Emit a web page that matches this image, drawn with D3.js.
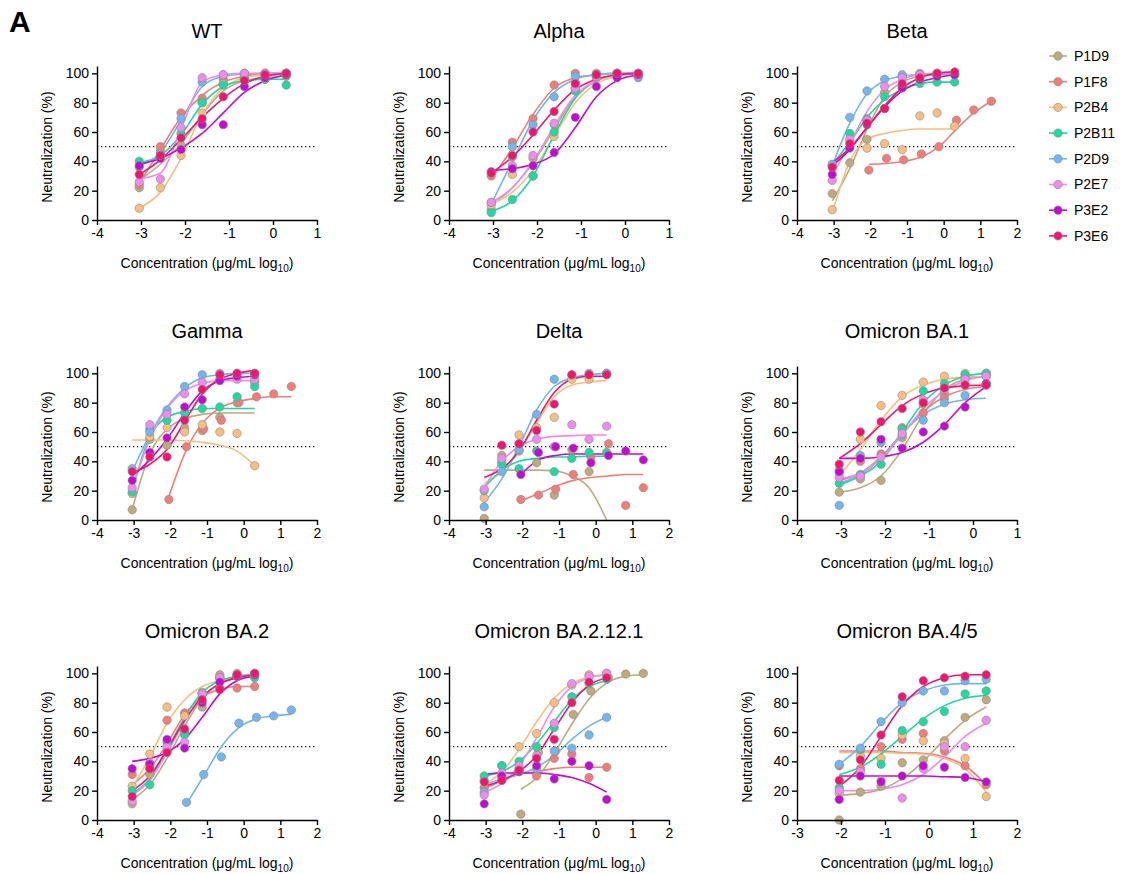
<!DOCTYPE html>
<html>
<head>
<meta charset="utf-8">
<script src="https://cdn.jsdelivr.net/npm/d3@7"></script>
<style>
body { margin: 0; background: #fff; }
svg { font-family: Arial, "Liberation Sans", sans-serif; }
</style>
</head>
<body>
<svg width="1126" height="874"></svg>
<script>
var names = ["P1D9", "P1F8", "P2B4", "P2B11", "P2D9", "P2E7", "P3E2", "P3E6"];
var colors = ["#bfaa7c", "#f27c78", "#fbbd7f", "#1ed9a0", "#72b5ef", "#ef8bef", "#c30bd3", "#f3146f"];

// log10 concentrations: 2 ug/mL top and 20 ug/mL top, 3-fold dilutions
var xStd = [-3.04, -2.56, -2.09, -1.61, -1.13, -0.65, -0.18, 0.30];
var xExt = [-2.04, -1.56, -1.09, -0.61, -0.13, 0.35, 0.82, 1.30];

var wtPts = [
  [22, 47, 51, 80, 93, 96, 96, 98],
  [24, 50, 73, 83, 96, 100, 100, 100],
  [8, 22, 44, 73, 93, 97, 99, 100],
  [40, 43, 59, 80, 92, 96, 96, 92],
  [36, 45, 69, 94, 99, 100, 100, 100],
  [26, 28, 63, 97, 99, 100, 100, 100],
  [37, 42, 48, 65, 65, 91, 97, 99],
  [31, 44, 56, 69, 84, 95, 99, 100]];
var wtFit = [
  [27, 38, 52, 72, 88, 95, 97, 98],
  [25, 48, 70, 85, 94, 98, 100, 100],
  [8, 19, 42, 72, 90, 97, 99, 100],
  [39, 44, 58, 79, 91, 95, 96, 96],
  [37, 46, 68, 91, 98, 99.5, 100, 100],
  [28, 32, 62, 94, 99, 100, 100, 100],
  [38, 42, 49, 59, 73, 87, 95, 99],
  [31, 41, 55, 70, 83, 93, 98, 100]];

var alphaPts = [
  [7, 43, 42, 65, 90, 97, 98, 99],
  [30, 53, 69, 92, 100, 100, 100, 100],
  [10, 31, 30, 57, 94, 99, 100, 100],
  [5, 14, 30, 60, 88, 98, 99, 98],
  [12, 50, 65, 84, 98, 99, 100, 97],
  [12, 37, 44, 66, 90, 98, 99, 98],
  [33, 35, 37, 46, 70, 91, 97, 99],
  [32, 44, 60, 74, 93, 99, 100, 100]];
var alphaFit = [
  [10, 22, 39, 62, 84, 95, 99, 100],
  [28, 49, 72, 90, 97, 99, 100, 100],
  [11, 19, 34, 57, 80, 93, 98, 100],
  [6, 13, 30, 58, 83, 95, 99, 100],
  [11, 40, 68, 87, 96, 99, 100, 100],
  [12, 22, 40, 64, 85, 95, 99, 100],
  [34, 35, 38, 45, 63, 84, 95, 99],
  [32, 43, 58, 75, 89, 96, 99, 100]];

var betaPts = [
  [18, 39, 55, 87, 98, 100, 100, 100],
  [34, 42, 41, 45, 50, 68, 75, 81],
  [7, 54, 49, 52, 48, 71, 73, 64],
  [37, 59, 69, 84, 91, 93, 94, 94],
  [38, 70, 88, 96, 99, 99, 99, 99],
  [27, 55, 68, 91, 97, 99, 100, 100],
  [31, 49, 65, 76, 90, 96, 98, 99],
  [36, 52, 66, 76, 93, 97, 100, 101]];
var betaFit = [
  [13, 35, 62, 84, 94, 98, 99, 100],
  [38, 38.5, 40, 43, 50, 62, 73, 81],
  [5, 40, 55, 59, 61, 62, 62, 62],
  [38, 53, 70, 82, 89, 93, 94, 94],
  [37, 66, 86, 95, 98, 99, 99, 99],
  [30, 52, 74, 89, 96, 99, 100, 100],
  [37, 48, 63, 77, 88, 94, 97, 99],
  [39, 49, 63, 78, 90, 97, 100, 101]];

var gammaPts = [
  [7, 55, 51, 63, 61, 70, 80, 94],
  [14, 50, 62, 68, 80, 84, 86, 91],
  [18, 57, 63, 60, 65, 60, 59, 37],
  [19, 62, 68, 73, 76, 77, 84, 91],
  [35, 60, 75, 91, 99, 100, 100, 100],
  [22, 65, 72, 86, 94, 96, 96, 96],
  [27, 46, 56, 77, 82, 95, 98, 99],
  [33, 43, 43, 68, 89, 99, 100, 100]];
var gammaFit = [
  [7, 45, 62, 69, 72, 73, 73, 73],
  [16, 48, 67, 77, 81, 83, 84, 84],
  [54.5, 54.5, 54.5, 54, 53, 51, 47, 37],
  [20, 57, 70, 74, 76, 76, 76, 76],
  [33, 58, 77, 90, 97, 99, 100, 100],
  [22, 55, 76, 88, 93, 95, 95, 95],
  [30, 41, 55, 73, 88, 95, 97, 98],
  [32, 38, 48, 67, 86, 96, 100, 102]];

var deltaPts = [
  [1, 44, 47, 39, 17, 48, 33, null],
  [14, 17, 21, 31, 43, 52, 10, 22],
  [15, 40, 58, 63, 70, 96, 96, 100],
  [20, 38, 35, 47, 33, 42, 46, 46],
  [9, 33, 48, 72, 96, 99, 100, 100],
  [21, 42, 52, 55, 50, 65, 55, 64],
  [31, 46, 50, 49, 39, 44, 47, 41],
  [null, 51, 52, 61, 79, 99, 99, 99]];
var deltaFit = [
  [34, 34, 34, 34, 33.5, 30, 22, 0],
  [13, 18, 23, 27, 29, 30, 31, 31],
  [25, 33, 47, 66, 84, 92, 94, 95],
  [22, 34, 40, 42, 43, 43, 43.5, 43.5],
  [12, 28, 50, 75, 91, 97, 99, 100],
  [22, 40, 50, 55, 57, 57.5, 58, 58],
  [31, 41, 44, 45, 45, 45, 45, 45],
  [29, 35, 47, 68, 87, 96, 98, 98]];

var ba1Pts = [
  [19, 28, 27, 56, 79, 86, 97, 98],
  [32, 40, 45, 63, 73, 83, 92, 92],
  [34, 55, 78, 85, 94, 98, 100, 100],
  [25, 31, 38, 62, 88, 93, 99, 100],
  [10, 44, 53, 58, 68, 80, 85, 93],
  [29, 30, 43, 59, 82, 89, 96, 98],
  [33, 42, 55, 49, 60, 64, 77, 93],
  [38, 60, 67, 76, 80, 90, 92, 92]];
var ba1Fit = [
  [19, 22, 30, 48, 72, 89, 96, 98],
  [27, 32, 43, 59, 74, 84, 89, 91],
  [30, 48, 68, 84, 92, 96, 97.5, 98],
  [24, 30, 40, 60, 80, 92, 98, 100],
  [25, 31, 42, 59, 72, 79, 82, 83],
  [28, 32, 42, 58, 76, 88, 95, 98],
  [42, 42, 43, 46, 53, 65, 80, 91],
  [42, 52, 65, 78, 86, 90, 91.5, 92]];

var ba2Pts = [
  [11, 31, 47, 60, 77, 99, 100, 100],
  [31, 35, 68, 73, 86, 90, 90, 91],
  [23, 45, 77, 71, 86, 97, 98, 98],
  [20, 24, 53, 58, 87, 97, 98, 97],
  [null, 12, 31, 43, 66, 70, 71, 75],
  [13, 39, 50, 53, 86, 97, 99, 99],
  [35, 38, 55, 49, 80, 94, 98, 99],
  [16, 35, 46, 62, 82, 89, 99, 100]];
var ba2Fit = [
  [14, 24, 42, 64, 83, 93, 98, 99],
  [24, 35, 52, 72, 84, 89, 91, 91],
  [22, 43, 66, 82, 91, 95, 97, 97.5],
  [18, 28, 48, 70, 87, 95, 98, 99],
  [null, 11, 30, 50, 63, 69, 71, 72],
  [17, 27, 46, 67, 84, 93, 97, 99],
  [40, 42, 46, 55, 70, 86, 95, 98],
  [20, 30, 48, 68, 84, 93, 97, 99]];

var ba212Pts = [
  [4, 46, 47, 72, 88, 97, 99.5, 100],
  [22, 27, 35, 30, 42, 45, 29, 36],
  [27, 37, 50, 59, 80, 92, 99, 100],
  [30, 37, 40, 50, 63, 84, 93, 96],
  [19, 30, 33, 35, 47, 49, 58, 70],
  [17, 32, 37, 44, 66, 93, 98, 100],
  [11, 30, 33, 37, 28, 40, 37, 14],
  [26, 27, 34, 42, 55, 80, 94, 97]];
var ba212Fit = [
  [21, 30, 47, 67, 84, 94, 98, 99],
  [21, 27, 31, 33, 35, 36, 36, 36],
  [24, 33, 48, 67, 83, 93, 97.5, 99],
  [30, 33, 40, 52, 67, 82, 91, 95],
  [24, 28, 31, 36, 44, 55, 64, 70],
  [19, 25, 37, 56, 77, 91, 97, 99],
  [31, 32, 32, 32, 31, 29, 25, 19],
  [23, 27, 33, 44, 62, 80, 92, 97]];

var ba45Pts = [
  [0, 19, 23, 39, 41, 54, 70, 82],
  [37, 35, 50, 55, 59, 47, 37, 24],
  [18, 44, 42, 58, 54, 52, 42, 16],
  [22, 48, 38, 61, 67, 74, 86, 88],
  [38, 49, 67, 80, 88, 88, 95, 96],
  [20, 33, 27, 15, 35, 50, 50, 68],
  [14, 30, 26, 30, 37, 36, 29, 26],
  [27, 41, 58, 84, 95, 97, 98, 99]];
var ba45Fit = [
  [17, 18, 21, 28, 40, 55, 68, 77],
  [47, 47, 47, 46, 45.5, 43, 37, 24],
  [46, 46, 46, 45.5, 45, 42, 35, 19],
  [31, 36, 45, 57, 69, 78, 83, 85],
  [38, 50, 66, 80, 88, 92, 93, 93],
  [20, 20, 21, 24, 31, 43, 57, 66],
  [30, 30, 30, 30, 30, 29.5, 29, 26],
  [23, 36, 57, 78, 91, 97, 99, 99]];

// which antibodies were run from 20 ug/mL in each panel
var panels = [
  { title: "WT", pts: wtPts, fit: wtFit, ext: [], domain: [-4, 1] },
  { title: "Alpha", pts: alphaPts, fit: alphaFit, ext: [], domain: [-4, 1] },
  { title: "Beta", pts: betaPts, fit: betaFit, ext: ["P1F8"], domain: [-4, 2] },
  { title: "Gamma", pts: gammaPts, fit: gammaFit, ext: ["P1F8"], domain: [-4, 2] },
  { title: "Delta", pts: deltaPts, fit: deltaFit, ext: ["P1F8", "P3E2"], domain: [-4, 2] },
  { title: "Omicron BA.1", pts: ba1Pts, fit: ba1Fit, ext: [], domain: [-4, 1] },
  { title: "Omicron BA.2", pts: ba2Pts, fit: ba2Fit, ext: ["P2D9"], domain: [-4, 2] },
  { title: "Omicron BA.2.12.1", pts: ba212Pts, fit: ba212Fit, ext: ["P1D9"], domain: [-4, 2] },
  { title: "Omicron BA.4/5", pts: ba45Pts, fit: ba45Fit, ext: names, domain: [-3, 2] }
];

var svg = d3.select("svg"),
    colX = [97, 449, 797],
    rowBottom = [220, 520, 820],
    pw = 220,
    ph = 154;

svg.append("text")
    .attr("x", 9)
    .attr("y", 32)
    .attr("font-size", 30)
    .attr("font-weight", "bold")
    .text("A");

panels.forEach(function (p, i) {
    var left = colX[i % 3],
        bottom = rowBottom[Math.floor(i / 3)];

    var g = svg.append("g")
        .attr("transform", "translate(" + left + "," + (bottom - ph) + ")");

    var x = d3.scaleLinear().domain(p.domain).range([0, pw]);
    var y = d3.scaleLinear().domain([0, 105]).range([ph, 0]);

    var xAxis = d3.axisBottom(x)
        .tickValues(d3.range(p.domain[0], p.domain[1] + 1))
        .tickFormat(function (d) { return String(d); })
        .tickSize(5)
        .tickSizeOuter(0);
    var yAxis = d3.axisLeft(y)
        .tickValues([0, 20, 40, 60, 80, 100])
        .tickSize(5)
        .tickSizeOuter(0);

    g.append("line")
        .attr("x1", 0)
        .attr("x2", pw)
        .attr("y1", y(50))
        .attr("y2", y(50))
        .attr("stroke", "#111")
        .attr("stroke-width", 1.3)
        .attr("stroke-dasharray", "1.3,2.7");

    var line = d3.line()
        .defined(function (d) { return d[1] != null; })
        .x(function (d) { return x(d[0]); })
        .y(function (d) { return y(d[1]); })
        .curve(d3.curveMonotoneX);

    names.forEach(function (n, k) {
        var xs = p.ext.indexOf(n) >= 0 ? xExt : xStd;
        g.append("path")
            .datum(p.fit[k].map(function (v, j) { return [xs[j], v]; }))
            .attr("fill", "none")
            .attr("stroke", colors[k])
            .attr("stroke-width", 1.6)
            .attr("d", line);
    });

    names.forEach(function (n, k) {
        var xs = p.ext.indexOf(n) >= 0 ? xExt : xStd;
        g.append("g")
            .selectAll("circle")
            .data(p.pts[k].map(function (v, j) { return [xs[j], v]; })
                .filter(function (d) { return d[1] != null; }))
            .enter().append("circle")
            .attr("cx", function (d) { return x(d[0]); })
            .attr("cy", function (d) { return y(d[1]); })
            .attr("r", 4.2)
            .attr("fill", colors[k])
            .attr("stroke", "#8a8a8a")
            .attr("stroke-width", 0.6);
    });

    var gx = g.append("g")
        .attr("transform", "translate(0," + ph + ")")
        .call(xAxis);
    var gy = g.append("g").call(yAxis);
    [gx, gy].forEach(function (a) {
        a.attr("font-size", 14).attr("font-family", "Arial, 'Liberation Sans', sans-serif");
        a.selectAll("path, line").attr("stroke", "#000").attr("stroke-width", 1.4);
        a.selectAll("text").attr("fill", "#000");
    });

    g.append("text")
        .attr("x", pw / 2)
        .attr("y", ph - 182)
        .attr("text-anchor", "middle")
        .attr("font-size", 20)
        .text(p.title);

    var xl = g.append("text")
        .attr("x", pw / 2)
        .attr("y", ph + 48)
        .attr("text-anchor", "middle")
        .attr("font-size", 14);
    xl.append("tspan").text("Concentration (\u03bcg/mL log");
    xl.append("tspan").attr("font-size", 10).attr("dy", 4).text("10");
    xl.append("tspan").attr("dy", -4).text(")");

    g.append("text")
        .attr("transform", "translate(-45," + (ph - 73) + ")rotate(-90)")
        .attr("text-anchor", "middle")
        .attr("font-size", 14)
        .text("Neutralization (%)");
});

var legend = svg.append("g")
    .attr("transform", "translate(1049,56)");
var item = legend.selectAll("g")
    .data(names)
    .enter().append("g")
    .attr("transform", function (d, i) { return "translate(0," + (i * 25.7) + ")"; });
item.append("line")
    .attr("x1", 0).attr("x2", 18)
    .attr("stroke", function (d, i) { return colors[i]; })
    .attr("stroke-width", 1.6);
item.append("circle")
    .attr("cx", 9)
    .attr("r", 4.2)
    .attr("fill", function (d, i) { return colors[i]; })
    .attr("stroke", "#8a8a8a")
    .attr("stroke-width", 0.6);
item.append("text")
    .attr("x", 25)
    .attr("dy", "0.35em")
    .attr("font-size", 14)
    .text(function (d) { return d; });
</script>
</body>
</html>
